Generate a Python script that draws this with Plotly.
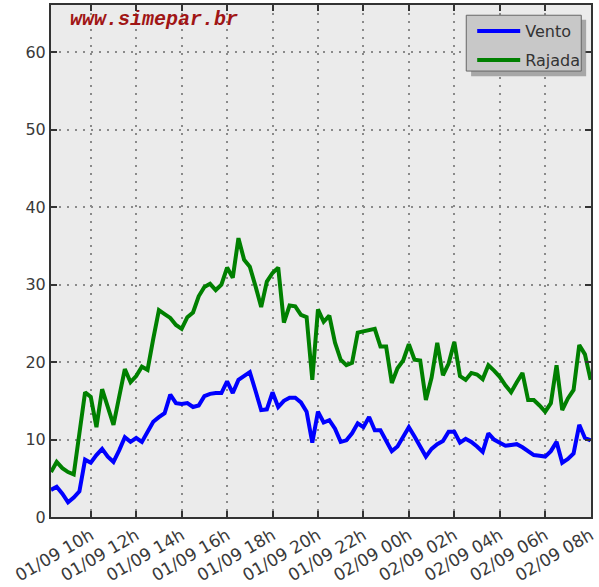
import plotly.graph_objects as go
from datetime import datetime, timedelta

start = datetime(2010, 9, 1, 8, 15)
times = [start + timedelta(minutes=15 * i) for i in range(96)]

vento = [3.5, 3.9, 3.0, 1.9, 2.5, 3.3, 7.4, 7.0, 8.0, 8.8, 7.8, 7.1, 8.6, 10.3, 9.7, 10.2,
         9.7, 11.0, 12.3, 12.9, 13.4, 15.8, 14.7, 14.6, 14.7, 14.2, 14.4, 15.6, 15.9, 16.0,
         16.0, 17.5, 16.0, 17.7, 18.2, 18.7, 16.3, 13.8, 13.9, 16.1, 14.2, 15.0, 15.4, 15.4,
         14.8, 13.6, 9.6, 13.6, 12.2, 12.5, 11.4, 9.7, 9.9, 10.8, 12.1, 11.6, 12.9, 11.2,
         11.2, 9.9, 8.5, 9.1, 10.4, 11.6, 10.4, 9.1, 7.8, 8.8, 9.4, 9.8, 11.0, 11.0, 9.6,
         10.1, 9.7, 9.1, 8.4, 10.8, 10.0, 9.6, 9.2, 9.3, 9.4, 9.0, 8.5, 8.0, 7.9, 7.8, 8.5,
         9.7, 7.0, 7.5, 8.2, 11.9, 10.2, 9.9]

rajada = [5.8, 7.1, 6.3, 5.8, 5.5, 10.5, 16.1, 15.5, 11.6, 16.5, 14.2, 11.9, 15.5, 19.1,
          17.4, 18.2, 19.4, 19.0, 23.0, 26.7, 26.2, 25.7, 24.8, 24.3, 25.8, 26.4, 28.5, 29.7,
          30.1, 29.3, 30.0, 32.2, 30.9, 36.0, 33.2, 32.3, 29.8, 27.1, 30.4, 31.5, 32.2, 25.1,
          27.3, 27.2, 26.1, 25.8, 17.7, 26.8, 25.2, 26.0, 22.5, 20.3, 19.6, 19.9, 23.8, 24.0,
          24.2, 24.3, 22.0, 22.0, 17.3, 19.2, 20.2, 22.3, 20.3, 20.2, 15.1, 18.0, 22.5, 18.3,
          19.8, 22.6, 18.2, 17.7, 18.6, 18.4, 17.8, 19.6, 18.9, 18.1, 17.0, 16.1, 17.4, 18.6,
          15.1, 15.1, 14.4, 13.6, 14.7, 19.6, 13.8, 15.3, 16.4, 22.2, 21.0, 17.7]

tick_vals = [datetime(2010, 9, 1, 10) + timedelta(hours=2 * k) for k in range(12)]
tick_text = ["01/09 10h", "01/09 12h", "01/09 14h", "01/09 16h", "01/09 18h", "01/09 20h",
             "01/09 22h", "02/09 00h", "02/09 02h", "02/09 04h", "02/09 06h", "02/09 08h"]
y_ticks = [0, 10, 20, 30, 40, 50, 60]

fig = go.Figure()
fig.add_trace(go.Scatter(x=times, y=vento, mode="lines", name="Vento", legendgroup="a",
                         line=dict(color="#0000ff", width=4)))
fig.add_trace(go.Scatter(x=times, y=rajada, mode="lines", name="Rajada", legendgroup="b",
                         line=dict(color="#008000", width=4)))

axis_common = dict(showline=True, linecolor="#333333", linewidth=2, mirror="allticks",
                   ticks="inside", ticklen=6, tickwidth=2, tickcolor="#333333",
                   showgrid=True, gridcolor="#8a8a8a", griddash="2px,6px", gridwidth=1.5,
                   zeroline=False, ticklabeloverflow="allow")

fig.update_xaxes(range=[times[0], times[-1] + timedelta(minutes=1)], tickvals=tick_vals,
                 ticktext=tick_text, tickangle=-30,
                 tickfont=dict(family="DejaVu Sans", size=17, color="#3a3a3a"), **axis_common)
fig.update_yaxes(range=[0, 66.1], tickvals=y_ticks,
                 tickfont=dict(family="DejaVu Sans", size=16, color="#3a3a3a"), **axis_common)

fig.add_annotation(text="<b><i>www.simepar.br</i></b>", xref="paper", yref="paper",
                   x=0.031, y=0.971, xanchor="left", yanchor="middle", showarrow=False,
                   font=dict(family="Liberation Mono", size=20, color="#a01515"))

# legend shadow and box
fig.add_shape(type="rect", xref="paper", yref="paper", x0=0.778, x1=0.991, y0=0.861, y1=0.971,
              fillcolor="#8a8a8a", line=dict(width=0), layer="above", opacity=0.7)
fig.add_shape(type="rect", xref="paper", yref="paper", x0=0.769, x1=0.982, y0=0.871, y1=0.980,
              fillcolor="#c8c8c8", line=dict(color="#666666", width=1), layer="above")

fig.update_layout(
    width=599, height=587,
    margin=dict(l=51, r=2, t=5, b=70),
    paper_bgcolor="white", plot_bgcolor="#ebebeb",
    showlegend=True,
    legend=dict(x=0.780, y=0.982, xanchor="left", yanchor="top",
                bgcolor="rgba(0,0,0,0)", borderwidth=0,
                font=dict(family="DejaVu Sans", size=16, color="#333333"),
                itemwidth=43, tracegroupgap=5),
)

fig.write_html("out.html", config={"displayModeBar": False},
               post_script="document.body.style.margin='0';")
